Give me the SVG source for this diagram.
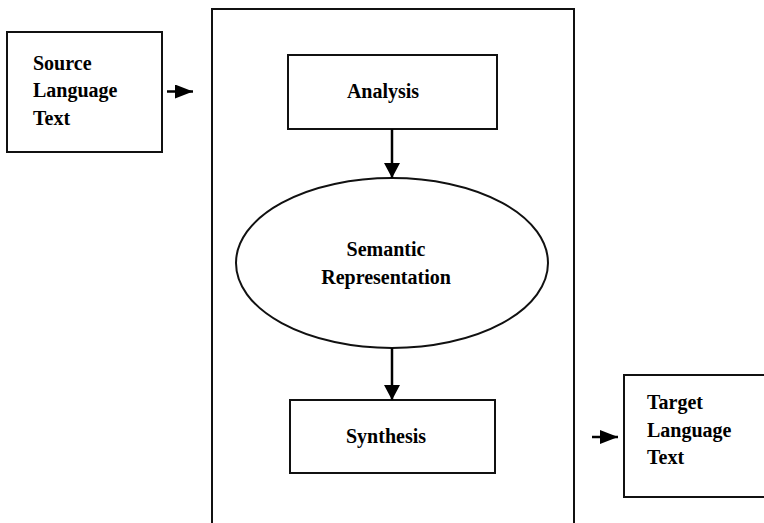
<svg xmlns="http://www.w3.org/2000/svg" width="764" height="523" viewBox="0 0 764 523">
<defs>
<style>
.box{fill:#fff;stroke:#111;stroke-width:2}
.t{font-family:"Liberation Serif","DejaVu Serif",serif;font-weight:bold;font-size:20px;fill:#000}
.c{text-anchor:middle}
.ln{stroke:#000;stroke-width:2.5;fill:none}
</style>
<marker id="ahs" markerWidth="18" markerHeight="14" refX="18" refY="7" orient="auto" markerUnits="userSpaceOnUse" viewBox="0 0 18 14">
<path d="M0,0 L18,7 L0,14 z" fill="#000"/>
</marker>
<marker id="ahv" markerWidth="15" markerHeight="16" refX="15" refY="8" orient="auto" markerUnits="userSpaceOnUse" viewBox="0 0 15 16">
<path d="M0,0 L15,8 L0,16 z" fill="#000"/>
</marker>
</defs>
<rect width="764" height="523" fill="#fff"/>
<g id="main-frame"><rect class="box" x="212" y="9" width="362" height="530"/></g>
<g id="source"><rect class="box" x="7" y="32" width="155" height="120"/>
<text class="t" x="33" y="70">Source</text><text class="t" x="33" y="97">Language</text><text class="t" x="33" y="125">Text</text></g>
<g id="analysis"><rect class="box" x="288" y="55" width="209" height="74"/>
<text class="t c" x="383" y="98">Analysis</text></g>
<g id="semantic"><ellipse class="box" cx="392" cy="263" rx="156" ry="85"/>
<text class="t c" x="386" y="256">Semantic</text><text class="t c" x="386" y="284">Representation</text></g>
<g id="synthesis"><rect class="box" x="290" y="400" width="205" height="73"/>
<text class="t c" x="386" y="443">Synthesis</text></g>
<g id="target"><rect class="box" x="624" y="375" width="150" height="122"/>
<text class="t" x="647" y="409">Target</text><text class="t" x="647" y="437">Language</text><text class="t" x="647" y="464">Text</text></g>
<g id="connectors">
<line class="ln" x1="167" y1="91.5" x2="193" y2="91.5" marker-end="url(#ahs)"/>
<line class="ln" x1="392" y1="129" x2="392" y2="178" marker-end="url(#ahv)"/>
<line class="ln" x1="392" y1="348" x2="392" y2="400" marker-end="url(#ahv)"/>
<line class="ln" x1="592" y1="437" x2="618" y2="437" marker-end="url(#ahs)"/>
</g>
</svg>
